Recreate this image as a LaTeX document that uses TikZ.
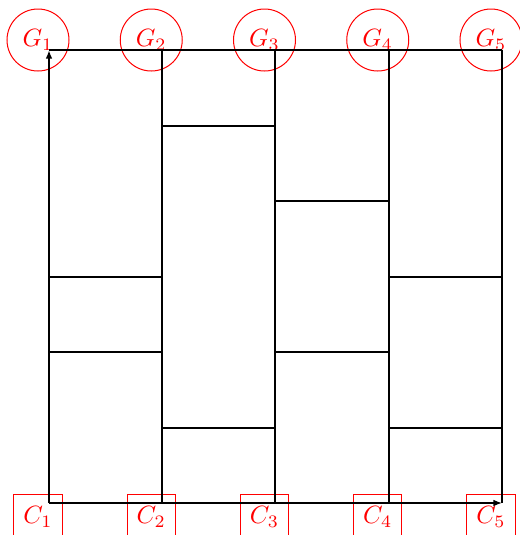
\documentclass[tikz,border=0pt]{standalone}
\usetikzlibrary{arrows.meta}
\begin{document}
\begin{tikzpicture}[x=0.4pt,y=-0.4pt,
  gnode/.style={circle,draw=red,text=red,minimum size=24.8pt,inner sep=0pt},
  cnode/.style={rectangle,draw=red,text=red,minimum width=19.2pt,minimum height=18.4pt,inner sep=0pt},
  wire/.style={draw=black,line width=0.8pt},
  base/.style={draw=black,line width=0.5pt},
  tip/.style={-{Latex[length=3.4pt,width=2.6pt]}}]
\useasboundingbox (0,0) rectangle (520,535);
% grid coordinates
\foreach \i/\x in {1/49,2/162.25,3/275.5,4/388.75,5/502}{
  \foreach \j in {0,...,6}{
    \coordinate (p\i-\j) at (\x,{50+75.5*\j});
  }
}
% nodes
\foreach \i/\x in {1/38,2/151.25,3/264.5,4/377.75,5/491}{
  \node[gnode] (G\i) at (\x,40) {$G_{\i}$};
  \node[cnode] (C\i) at (\x,517) {$C_{\i}$};
}
% verticals
\draw[wire,tip] (p1-6) -- (p1-0);
\foreach \i in {2,...,5}{\draw[wire] (p\i-0) -- (p\i-6);}
% top line
\draw[wire] (p1-0) -- (p5-0);
% bottom line
\draw[base,tip] (p1-6) -- (p5-6);
% rungs
\draw[wire] (p2-1) -- (p3-1);
\draw[wire] (p3-2) -- (p4-2);
\draw[wire] (p1-3) -- (p2-3);
\draw[wire] (p4-3) -- (p5-3);
\draw[wire] (p1-4) -- (p2-4);
\draw[wire] (p3-4) -- (p4-4);
\draw[wire] (p2-5) -- (p3-5);
\draw[wire] (p4-5) -- (p5-5);
\end{tikzpicture}
\end{document}
